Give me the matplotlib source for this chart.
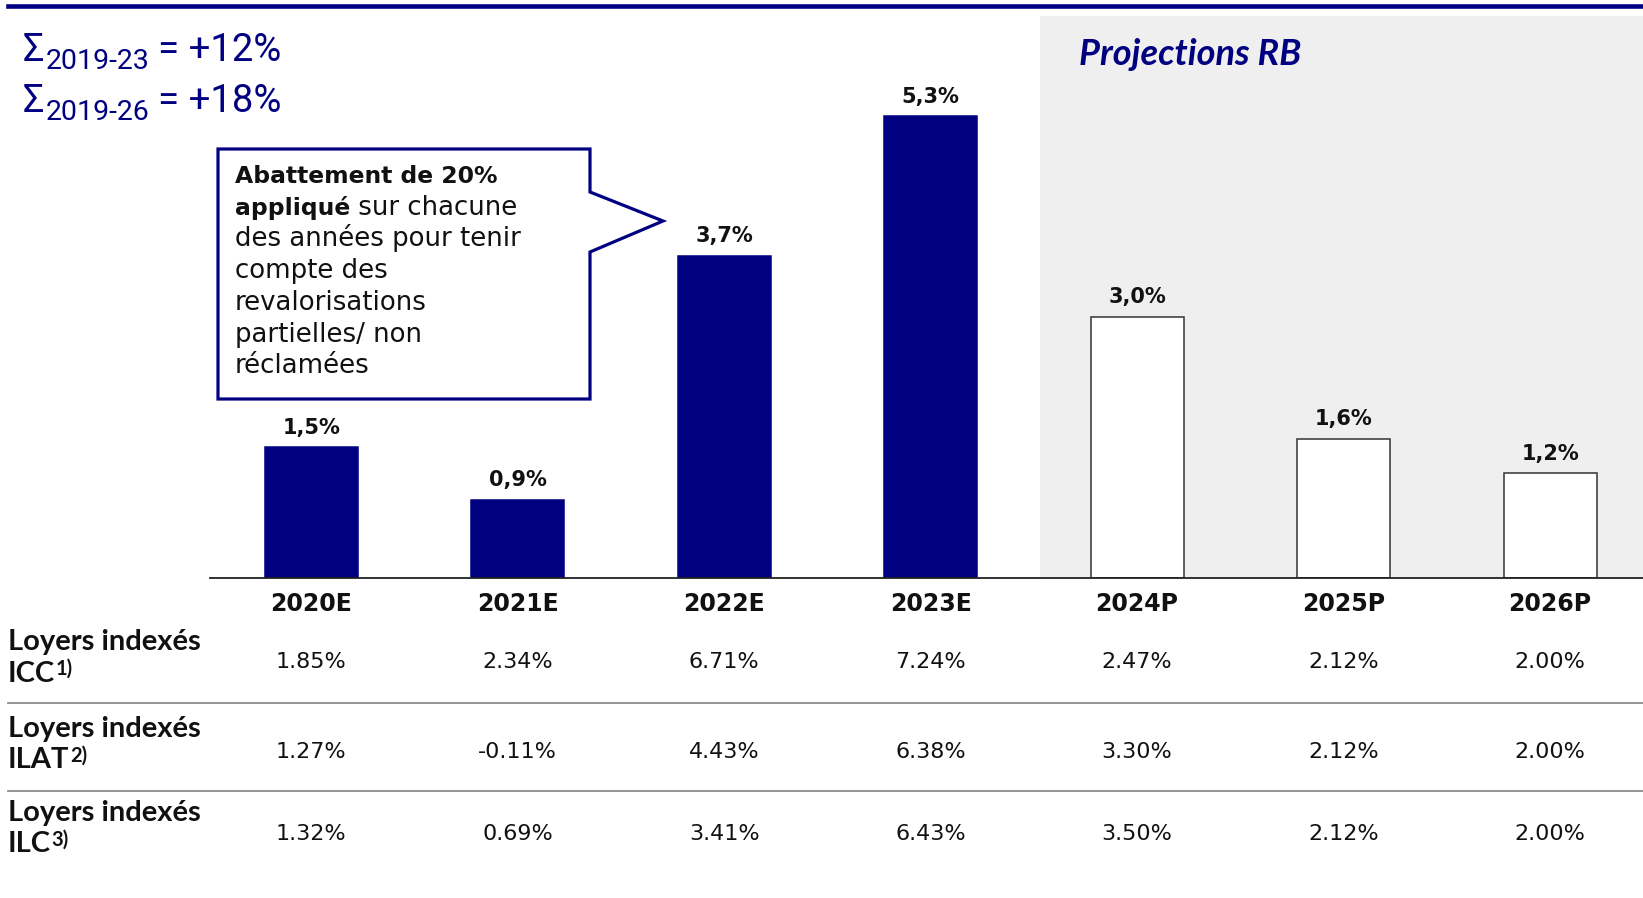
import matplotlib
matplotlib.use("Agg")
import matplotlib.pyplot as plt
from matplotlib.patches import Polygon
from matplotlib.lines import Line2D
from matplotlib.transforms import blended_transform_factory

W, H = 1643, 898
NAVY = "#000080"
INK = "#111111"

# ---- data -------------------------------------------------------------
years = ["2020E", "2021E", "2022E", "2023E", "2024P", "2025P", "2026P"]
growth = [1.5, 0.9, 3.7, 5.3, 3.0, 1.6, 1.2]
projected = [False, False, False, False, True, True, True]
icc = [1.85, 2.34, 6.71, 7.24, 2.47, 2.12, 2.00]
ilat = [1.27, -0.11, 4.43, 6.38, 3.30, 2.12, 2.00]
ilc = [1.32, 0.69, 3.41, 6.43, 3.50, 2.12, 2.00]
row_names = ["ICC", "ILAT", "ILC"]
row_notes = ["1)", "2)", "3)"]
cumul_periods = ["2019-23", "2019-26"]
cumul_values = ["+12%", "+18%"]
callout_lines = ["des années pour tenir", "compte des", "revalorisations",
                 "partielles/ non", "réclamées"]

fig = plt.figure(figsize=(W / 100, H / 100), dpi=100)
fig.patch.set_facecolor("white")


def fx(x):
    return x / W


def fy(y):
    return 1 - y / H


renderer = fig.canvas.get_renderer()


def right_edge(t):
    bb = t.get_window_extent(renderer)
    return bb.x1 / fig.bbox.width * W


# ---- bar chart --------------------------------------------------------
ax = fig.add_axes([fx(210), fy(578), fx(1643) - fx(210), (578 - 16) / H])
ax.patch.set_visible(False)
ax.set_xlim(-0.49, 6.45)
ax.set_ylim(0, 6.45)
ax.axvspan(3.53, 6.45, color="#efefef", lw=0, zorder=0)

xs = list(range(len(years)))
faces = ["white" if p else NAVY for p in projected]
edges = ["#333333" if p else NAVY for p in projected]
ax.bar(xs, growth, width=0.45, color=faces, edgecolor=edges, linewidth=1.1, zorder=2)

for x, v in zip(xs, growth):
    ax.annotate(f"{v:.1f}".replace(".", ",") + "%", (x, v), xytext=(0, 9.5),
                textcoords="offset points", ha="center", va="baseline",
                fontsize=15, fontweight="bold", color=INK,
                family="DejaVu Sans")

for s in ["top", "left", "right"]:
    ax.spines[s].set_visible(False)
ax.spines["bottom"].set_color("#222222")
ax.spines["bottom"].set_linewidth(1.3)
ax.set_yticks([])
ax.set_xticks(xs, years, fontsize=17, fontweight="bold", color=INK)
ax.tick_params(axis="x", length=0, pad=10)

fig.text(fx(1079), fy(65), "Projections RB", fontsize=26, family="Lato",
         fontweight="bold", style="italic", color=NAVY)

# ---- header rule ------------------------------------------------------
fig.add_artist(Line2D([fx(8), 1], [fy(5.5), fy(5.5)], transform=fig.transFigure,
                      color=NAVY, lw=3.3))

# ---- cumulative growth --------------------------------------------------
for i, (period, val) in enumerate(zip(cumul_periods, cumul_values)):
    base = 61 + 51 * i
    t = fig.text(fx(23), fy(base), "Σ", fontsize=27, family="Roboto", color=NAVY)
    t = fig.text(fx(right_edge(t) + 1), fy(base + 8), period, fontsize=20.5,
                 family="Roboto", color=NAVY)
    fig.text(fx(right_edge(t) + 9), fy(base), "= " + val, fontsize=27.5,
             family="Roboto", color=NAVY)

# ---- callout ------------------------------------------------------------
box = [(218, 149), (590, 149), (590, 192), (663, 221), (590, 252),
       (590, 399), (218, 399)]
fig.add_artist(Polygon([(fx(x), fy(y)) for x, y in box], closed=True,
                       transform=fig.transFigure, facecolor="white",
                       edgecolor=NAVY, lw=2.3, joinstyle="miter", zorder=3))

bfs = 16.9
rfs = 18.7
lh = 31.7
fig.text(fx(235), fy(183), "Abattement de 20%", fontsize=bfs, fontweight="bold",
         family="DejaVu Sans", color=INK, zorder=4)
t = fig.text(fx(235), fy(183 + lh), "appliqué", fontsize=bfs, fontweight="bold",
             family="DejaVu Sans", color=INK, zorder=4)
fig.text(fx(right_edge(t)), fy(183 + lh), " sur chacune", fontsize=rfs,
         family="DejaVu Sans", color=INK, zorder=4)
for k, line in enumerate(callout_lines):
    fig.text(fx(235), fy(183 + lh * (k + 2)), line, fontsize=rfs,
             family="DejaVu Sans", color=INK, zorder=4)

# ---- index table ----------------------------------------------------------
col_tr = blended_transform_factory(ax.transData, fig.transFigure)
label_base = [650, 737, 821]
value_base = [668.5, 758.5, 840]
for r, (name, note, vals) in enumerate(zip(row_names, row_notes, [icc, ilat, ilc])):
    y0 = label_base[r]
    fig.text(fx(8), fy(y0), "Loyers indexés", fontsize=21, family="Lato",
             fontweight="bold", color=INK)
    t = fig.text(fx(8), fy(y0 + 31.5), name, fontsize=21, family="Lato",
                 fontweight="bold", color=INK)
    fig.text(fx(right_edge(t) + 0.5), fy(y0 + 31.5 - 7), note, fontsize=14.5,
             family="Lato", fontweight="bold", color=INK)
    for x, v in zip(xs, vals):
        ax.text(x, fy(value_base[r]), f"{v:.2f}%", transform=col_tr,
                ha="center", va="baseline", fontsize=16,
                family="DejaVu Sans", color=INK, clip_on=False)

for y in [703, 791]:
    fig.add_artist(Line2D([fx(8), 1], [fy(y), fy(y)], transform=fig.transFigure,
                          color="#8c8c8c", lw=1.3))

fig.savefig("out.png", dpi=100, facecolor="white")
